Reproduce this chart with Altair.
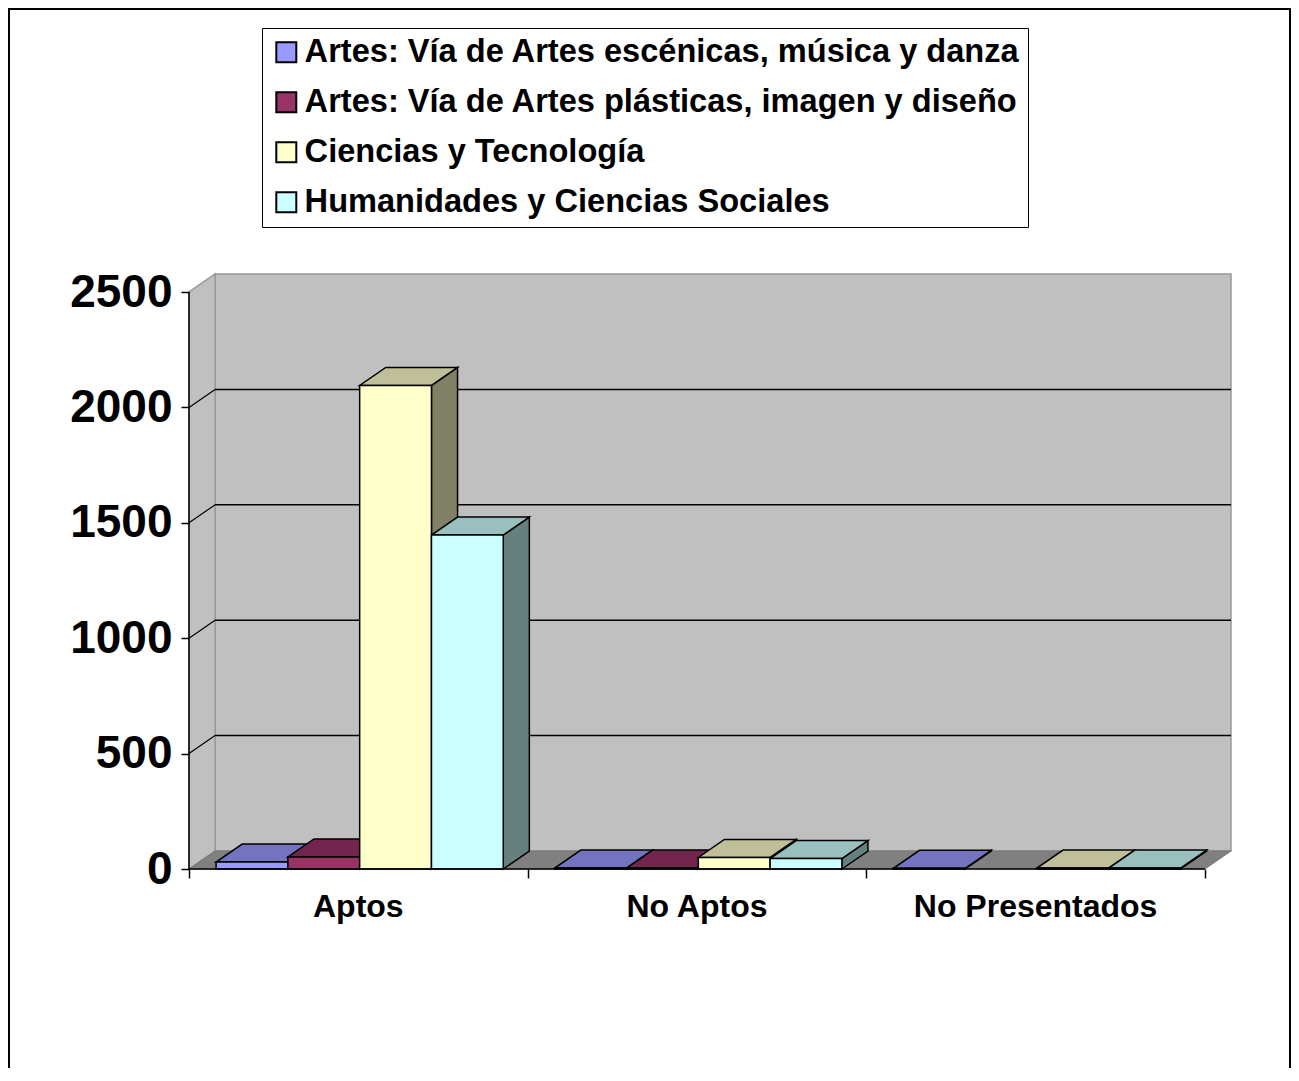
import altair as alt
import pandas as pd

# ---------------- data ----------------
categories = ["Aptos", "No Aptos", "No Presentados"]
series = [
    "Artes: Vía de Artes escénicas, música y danza",
    "Artes: Vía de Artes plásticas, imagen y diseño",
    "Ciencias y Tecnología",
    "Humanidades y Ciencias Sociales",
]
escenicas = [30, 4, 3]
plasticas = [52, 4, 0]
ciencias = [2095, 50, 4]
humanidades = [1447, 45, 4]
values = [escenicas, plasticas, ciencias, humanidades]

front_colors = ["#9999FF", "#993366", "#FFFFCC", "#CCFFFF"]
top_colors = ["#7373BF", "#73264D", "#BFBF99", "#99BFBF"]
side_colors = ["#4D4D80", "#4D1A33", "#808066", "#668080"]
y_ticks = [0, 500, 1000, 1500, 2000, 2500]

# ---------------- geometry (3-D look) ----------------
FONT = "Liberation Sans"
DX = 0.077         # depth offset in category units
DY = 78            # depth offset in value units
BW = 0.212         # bar width in category units
G0 = 0.08          # start of the group inside a category
NCAT = len(categories)
YTOP = y_ticks[-1]
XMAX = NCAT + DX
YMAX = YTOP + DY
PX_X = 338.7
PX_Y = 0.2308
W = round(XMAX * PX_X)
H = round(YMAX * PX_Y)
PAD_L, PAD_T = 181, 266
SVG_W, SVG_H = 1283, 1060

xs = alt.Scale(domain=[0, XMAX], nice=False, zero=False)
ys = alt.Scale(domain=[0, YMAX], nice=False, zero=False)

front, tops, sides = [], [], []
for si, s in enumerate(series):
    for ci, c in enumerate(categories):
        v = values[si][ci]
        if v <= 0:
            continue
        x0 = ci + G0 + si * BW
        x1 = x0 + BW
        bid = f"{si}-{ci}"
        front.append(dict(x0=x0, x1=x1, b=0, v=v, series=s))
        for x, lo, hi in [(x0, v, v), (x0 + DX, v, v + DY), (x1, v, v + DY), (x1 + DX, v + DY, v + DY)]:
            tops.append(dict(x=x, lo=lo, hi=hi, id=bid, col=top_colors[si]))
        for x, lo, hi in [(x1, 0, v), (x1 + DX, DY, v + DY)]:
            sides.append(dict(x=x, lo=lo, hi=hi, id=bid, col=side_colors[si]))

front_df = pd.DataFrame(front)
tops_df = pd.DataFrame(tops)
sides_df = pd.DataFrame(sides)

# walls
back_df = pd.DataFrame([dict(x0=DX, x1=NCAT + DX, y0=DY, y1=YTOP + DY)])
sidewall_df = pd.DataFrame([dict(x=0, lo=0, hi=YTOP), dict(x=DX, lo=DY, hi=YTOP + DY)])
floor_df = pd.DataFrame([
    dict(x=0, lo=0, hi=0), dict(x=DX, lo=0, hi=DY),
    dict(x=NCAT, lo=0, hi=DY), dict(x=NCAT + DX, lo=DY, hi=DY),
])
grid_vals = y_ticks[1:-1]
backgrid_df = pd.DataFrame([dict(x0=DX, x1=NCAT + DX, y=v + DY) for v in grid_vals])
diag_df = pd.DataFrame([dict(x0=0, x1=DX, y0=v, y1=v + DY) for v in grid_vals])
label_df = pd.DataFrame([dict(x=ci + 0.5, b=0, cat=c) for ci, c in enumerate(categories)])
axis_df = pd.DataFrame([dict(x0=0, x1=NCAT, b=0, top=YTOP)])

# ---------------- layers ----------------
yaxis = alt.Axis(values=y_ticks, format="d", domain=False, grid=False, tickSize=8,
                 tickColor="black", tickWidth=1.5, labelFontSize=46, labelFontWeight="bold",
                 labelFont=FONT, labelColor="black", labelPadding=9, title=None, zindex=1)
xaxis = alt.Axis(values=list(range(NCAT + 1)), domain=False, grid=False, labels=False,
                 tickSize=9, tickColor="black", tickWidth=1.5, title=None, zindex=1)

border = alt.Chart(pd.DataFrame([{"a": 0}])).mark_rect(
    fillOpacity=0, stroke="black", strokeWidth=2
).encode(x=alt.value(1 - PAD_L), x2=alt.value(SVG_W - 1 - PAD_L),
         y=alt.value(1 - PAD_T), y2=alt.value(900))

back = alt.Chart(back_df).mark_rect(fill="#C0C0C0", stroke="#999999", strokeWidth=1.5).encode(
    x=alt.X("x0:Q", scale=xs, axis=xaxis), x2="x1:Q",
    y=alt.Y("y0:Q", scale=ys, axis=yaxis), y2="y1:Q",
)
sidewall = alt.Chart(sidewall_df).mark_area(fill="#C0C0C0", stroke="#999999", strokeWidth=1.5).encode(
    x=alt.X("x:Q", scale=xs, axis=None), y=alt.Y("lo:Q", scale=ys, stack=None, axis=None), y2="hi:Q"
)
floor = alt.Chart(floor_df).mark_area(fill="#808080", stroke="#777777", strokeWidth=1).encode(
    x=alt.X("x:Q", scale=xs, axis=None), y=alt.Y("lo:Q", scale=ys, stack=None, axis=None), y2="hi:Q"
)
backgrid = alt.Chart(backgrid_df).mark_rule(color="black", strokeWidth=1.5).encode(
    x=alt.X("x0:Q", scale=xs, axis=None), x2="x1:Q", y=alt.Y("y:Q", scale=ys, axis=None)
)
diag = alt.Chart(diag_df).mark_rule(color="black", strokeWidth=1.2).encode(
    x=alt.X("x0:Q", scale=xs, axis=None), x2="x1:Q",
    y=alt.Y("y0:Q", scale=ys, axis=None), y2="y1:Q"
)
side_faces = alt.Chart(sides_df).mark_area(stroke="black", strokeWidth=1.5).encode(
    x=alt.X("x:Q", scale=xs, axis=None), y=alt.Y("lo:Q", scale=ys, stack=None, axis=None), y2="hi:Q",
    fill=alt.Fill("col:N", scale=None), detail="id:N",
)
top_faces = alt.Chart(tops_df).mark_area(stroke="black", strokeWidth=1.5).encode(
    x=alt.X("x:Q", scale=xs, axis=None), y=alt.Y("lo:Q", scale=ys, stack=None, axis=None), y2="hi:Q",
    fill=alt.Fill("col:N", scale=None), detail="id:N",
)
front_faces = alt.Chart(front_df).mark_rect(stroke="black", strokeWidth=1.5).encode(
    x=alt.X("x0:Q", scale=xs, axis=None), x2="x1:Q",
    y=alt.Y("b:Q", scale=ys, axis=None), y2="v:Q",
    fill=alt.Fill(
        "series:N",
        scale=alt.Scale(domain=series, range=front_colors),
        legend=alt.Legend(
            orient="none", legendX=262 - 8 - PAD_L, legendY=28 - 8 - PAD_T, title=None,
            symbolType="square", symbolSize=400, symbolStrokeColor="black",
            symbolStrokeWidth=2, labelFontSize=32.6, labelFontWeight="bold",
            labelFont=FONT, labelColor="black", labelLimit=1200, rowPadding=17,
            padding=8, strokeColor="black", fillColor="white", labelOffset=2,
            symbolOpacity=1,
        ),
    ),
)
yline = alt.Chart(axis_df).mark_rule(color="black", strokeWidth=1.5).encode(
    x=alt.X("x0:Q", scale=xs, axis=None), y=alt.Y("b:Q", scale=ys, axis=None), y2="top:Q"
)
xline = alt.Chart(axis_df).mark_rule(color="black", strokeWidth=1.5).encode(
    x=alt.X("x0:Q", scale=xs, axis=None), x2="x1:Q", y=alt.Y("b:Q", scale=ys, axis=None)
)
labels = alt.Chart(label_df).mark_text(
    baseline="alphabetic", dy=48, fontSize=32, fontWeight="bold", font=FONT, color="black"
).encode(x=alt.X("x:Q", scale=xs, axis=None), y=alt.Y("b:Q", scale=ys, axis=None), text="cat:N")

chart = alt.layer(
    border, back, sidewall, floor, backgrid, diag, side_faces, top_faces, front_faces,
    yline, xline, labels,
).resolve_axis(
    x="independent", y="independent"
).properties(
    width=W, height=H,
    autosize=alt.AutoSizeParams(type="none"),
    padding={"left": PAD_L, "top": PAD_T, "right": SVG_W - PAD_L - W, "bottom": SVG_H - PAD_T - H},
    background="white",
).configure_view(stroke=None)

chart.save("out.html", embed_options={"renderer": "svg", "actions": False})
